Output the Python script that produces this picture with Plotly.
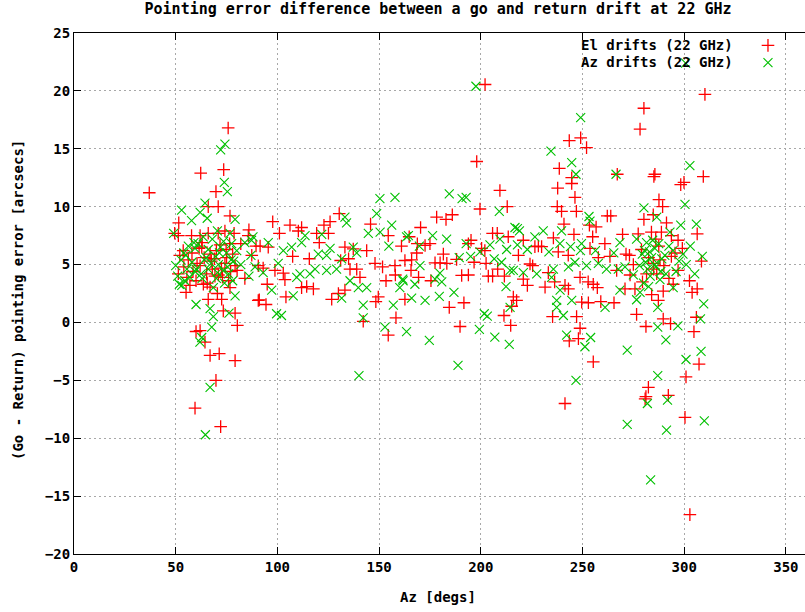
import plotly.graph_objects as go

# ---- data ----
el_az = [75.8, 62.3, 73.6, 37.0, 69.8, 66.0, 70.9, 76.7, 51.5, 49.5, 51.3, 57.8, 62.0, 66.0, 70.9, 74.2, 78.7, 85.7, 89.5, 53.7,
         62.8, 71.8, 76.5, 66.9, 87.4, 56.2, 62.0, 74.2, 79.2, 51.3, 65.2, 69.3, 80.2, 90.6,
         54.0, 58.0, 60.0, 64.0, 68.0, 70.0, 73.0, 75.0, 77.0, 57.0, 52.0, 82.0, 84.0, 86.0,
         63.6, 66.9, 55.1, 70.5, 76.7, 66.0, 72.6, 90.6, 73.4, 79.2, 80.3, 60.0, 62.0, 64.4, 66.9, 71.4, 79.2, 69.8, 59.5, 72.1,
         130.4, 97.7, 106.2, 111.9, 110.3, 122.9, 125.9, 145.8, 101.0, 119.3, 125.1, 154.5, 120.6, 91.5, 95.5, 107.5, 115.7,
         133.2, 137.3, 143.9, 131.1, 135.0, 135.7, 139.0, 148.0, 151.7, 157.8, 162.7, 161.0, 158.0, 93.0, 98.8, 102.9, 103.7,
         95.0, 111.9, 114.4, 117.7, 104.2, 126.7, 130.0, 133.2, 140.6, 91.1, 94.4, 149.6, 148.4, 153.4, 142.2, 158.3, 154.5, 162.7,
         202.1, 198.0, 209.4, 213.0, 199.6, 178.3, 182.9, 186.0, 170.4, 164.8, 168.8, 172.6, 175.0, 168.5, 181.6, 195.2, 193.9,
         205.8, 208.1, 213.5, 200.4, 202.0, 188.1, 166.0, 177.5, 180.0, 183.3, 196.7, 202.6, 165.7, 208.3, 218.5, 190.6, 193.9,
         203.7, 205.8, 211.6, 169.4, 175.5, 184.5, 191.7, 216.0, 217.6, 211.4, 214.7, 189.8,
         243.5, 249.1, 252.0, 238.6, 244.7, 244.7, 267.1, 237.8, 246.3, 237.6, 239.7, 247.0, 262.2, 263.9, 240.9, 253.4, 256.7,
         245.8, 255.0, 235.7, 269.7, 220.9, 228.3, 229.9, 226.6, 261.0, 238.1, 243.0, 253.7, 224.2, 225.5, 257.8, 263.5, 271.4,
         233.2, 248.8, 252.8, 255.3, 257.3, 266.8, 270.9, 220.9, 222.9, 231.6, 241.4, 243.1, 236.3, 249.6, 252.9, 259.0, 265.5,
         215.2, 235.3, 247.1, 248.8, 243.5, 248.0, 255.3, 241.4,
         310.2, 280.2, 278.3, 285.6, 285.1, 309.4, 298.3, 299.9, 287.6, 289.4, 284.8, 280.2, 291.3, 306.4, 277.4, 283.9, 288.8,
         293.7, 297.0, 299.1, 273.1, 275.0, 284.8, 288.1, 293.7, 308.5, 297.0, 273.4, 281.5, 286.5, 302.6, 294.6, 306.4, 303.9,
         275.8, 289.7, 287.3, 276.6, 289.7, 281.2, 293.3, 306.0, 304.8, 307.3, 300.9, 282.4, 281.2, 280.8, 292.2, 300.4, 302.8,
         67.5, 71.0, 74.8, 78.0, 55.5, 60.5, 63.0, 65.5, 69.0, 72.5, 76.0, 58.5, 61.5,
         279.0, 282.5, 285.0, 287.5, 290.0, 292.5, 295.5, 279.5, 284.0, 286.0]
el_err = [16.8, 12.9, 13.2, 11.2, 11.3, 10.0, 10.0, 9.2, 8.6, 7.7, 7.5, 7.5, 7.5, 7.7, 7.7, 7.9, 7.7, 7.5, 6.6, 6.2,
          6.5, 6.7, 6.8, 5.9, 5.8, 5.4, 4.9, 5.1, 4.9, 4.2, 4.2, 4.0, 4.5, 4.9,
          4.8, 6.0, 3.6, 5.6, 4.6, 6.2, 3.9, 5.6, 4.4, 3.2, 5.8, 6.8, 3.8, 8.0,
          3.3, 3.05, 2.6, 2.5, 3.0, 2.0, 2.0, 1.9, 1.0, 0.8, -0.26, -0.78, -0.7, -1.7, -2.85, -2.7, -3.3, -5.0, -7.4, -9.0,
          9.4, 8.7, 8.4, 8.2, 7.9, 8.4, 8.7, 8.5, 7.7, 7.7, 7.7, 7.5, 6.9, 6.6, 6.5, 5.7, 5.5,
          6.5, 6.35, 6.2, 5.35, 5.5, 4.6, 4.6, 5.1, 4.8, 4.9, 5.35, 6.6, 4.1, 4.7, 4.5, 4.26, 3.7,
          3.3, 3.0, 3.1, 2.9, 2.2, 2.0, 2.5, 2.8, 3.9, 1.95, 1.55, 2.2, 1.8, 3.6, 0.1, 0.4, -1.1, 2.0,
          20.55, 13.9, 11.4, 10.0, 9.8, 9.1, 8.9, 9.3, 8.2, 7.4, 6.8, 6.65, 6.8, 6.0, 5.9, 7.1, 6.8,
          7.7, 7.7, 7.4, 6.4, 6.2, 5.45, 5.4, 5.15, 5.15, 5.1, 5.2, 5.1, 4.5, 4.6, 5.8, 4.06, 4.1,
          4.0, 4.0, 4.0, 3.9, 3.6, 1.3, 1.7, 2.2, 1.9, 0.6, -0.26, -0.35,
          15.7, 15.95, 15.1, 13.3, 12.5, 12.0, 12.8, 11.6, 10.8, 10.0, 9.6, 9.6, 9.2, 9.2, 8.5, 8.4, 8.25,
          7.6, 7.4, 7.3, 7.6, 7.1, 6.6, 6.55, 6.55, 6.8, 6.1, 5.8, 6.4, 5.05, 4.9, 5.6, 5.7, 5.9,
          4.3, 3.9, 3.5, 3.3, 3.0, 4.5, 2.9, 3.75, 3.2, 3.05, 3.2, 2.9, 3.5, 1.75, 1.7, 1.8, 1.7,
          1.4, 0.5, 0.5, -0.5, -1.6, -1.4, -3.4, -7.0,
          19.7, 18.5, 16.7, 12.8, 12.6, 12.6, 11.9, 12.1, 10.6, 10.0, 9.3, 8.9, 8.6, 7.65, 7.65, 7.8, 7.8,
          7.5, 7.1, 6.4, 5.8, 5.0, 5.1, 5.4, 5.7, 5.3, 4.5, 4.1, 4.2, 4.2, 3.6, 3.3, 2.9, 2.6,
          2.9, 2.7, 1.9, 0.7, 0.3, -0.35, -0.1, 0.45, -0.8, -3.6, -4.7, -5.6, -6.4, -6.6, -6.3, -8.2, -16.6,
          5.3, 4.1, 6.3, 5.9, 3.9, 5.1, 6.9, 3.4, 5.5, 4.7, 3.6, 4.4, 6.4,
          6.3, 5.6, 4.6, 6.6, 4.9, 3.8, 6.0, 3.5, 2.4, 7.2]

az_az = [74.2, 72.1, 73.9, 75.4, 64.4, 52.9, 57.8, 62.0, 65.5, 79.2, 70.5, 76.7, 56.2, 59.5, 77.5, 69.6, 52.6, 64.1, 67.4,
         77.2, 87.0, 55.5, 59.5, 73.3, 51.0, 49.0, 50.0,
         54.0, 58.0, 61.0, 63.0, 66.0, 68.0, 71.0, 72.0, 75.0, 78.0, 53.0, 57.0, 60.0, 66.0, 70.0, 74.0, 76.0, 80.0, 82.0, 84.0,
         86.0, 88.0,
         51.8, 60.0, 66.9, 79.2, 68.5, 76.2, 67.7, 62.8, 61.9, 66.9, 64.6,
         150.4, 157.8, 148.8, 133.2, 134.0, 156.2, 144.7, 150.5, 113.6, 121.8, 111.9, 163.5, 154.8, 87.3, 95.5, 102.9, 107.0,
         120.1, 125.9, 124.2, 131.6, 137.3, 139.0, 89.0, 93.0, 100.4, 109.5, 111.1, 116.0, 118.5, 124.2, 129.1, 135.7, 139.8,
         143.9, 161.8, 160.2, 97.2, 107.8, 131.6, 142.2, 157.0, 99.6, 102.0, 142.2, 152.9, 163.5, 140.1, 188.8,
         197.6, 184.5, 190.8, 192.8, 209.1, 216.8, 164.4, 176.3, 183.2, 192.8, 204.5, 209.4, 212.7, 169.8, 189.4, 195.0, 199.6,
         206.6, 210.2, 170.1, 179.9, 161.6, 167.6, 177.5, 180.8, 186.8, 179.6, 166.0, 172.6, 212.4, 216.0, 201.7, 203.2, 199.3,
         174.7, 206.9, 214.0,
         249.1, 234.5, 244.7, 246.8, 266.5, 253.2, 253.7, 218.0, 219.0, 230.7, 226.6, 239.7, 238.9, 249.5, 268.4, 218.0, 222.9,
         233.5, 244.1, 249.0, 256.4, 265.4, 214.4, 220.9, 227.5, 235.7, 243.1, 246.3, 252.0, 257.8, 261.8, 267.6, 270.9, 234.8,
         268.4, 239.0, 237.3, 244.7, 237.3, 240.6, 261.1, 214.4, 242.2, 254.0, 251.2, 272.0, 246.8,
         302.8, 300.4, 280.2, 286.5, 306.0, 298.3, 308.9, 281.5, 276.6, 293.0, 285.6, 279.4, 294.5, 299.4, 305.2, 275.0, 283.3,
         288.1, 294.6, 278.3, 281.0, 282.0, 284.0, 280.0, 283.0, 286.0, 289.0, 291.0, 278.0, 296.0, 301.0, 303.0,
         276.6, 287.0, 287.0, 296.9, 309.6, 308.0, 291.0, 300.9, 308.3, 287.0, 281.9, 291.8, 272.0, 291.3, 309.9, 283.5, 300.7,
         55.0, 59.0, 62.5, 65.0, 68.5, 71.5, 73.5, 75.5, 78.5, 54.5, 63.5, 70.5,
         280.5, 282.5, 284.5, 285.5, 287.5, 288.5, 290.5, 292.5, 297.5]
az_err = [15.4, 14.9, 12.1, 11.3, 10.3, 9.7, 8.8, 9.5, 9.0, 8.9, 7.9, 7.7, 6.6, 6.4, 6.8, 5.7, 5.4, 5.4, 5.1,
          5.4, 5.8, 4.6, 4.4, 4.5, 4.0, 7.7, 4.9,
          6.0, 5.2, 6.8, 3.8, 6.3, 7.2, 5.0, 6.5, 6.0, 3.6, 3.2, 3.9, 4.6, 4.6, 3.8, 3.4, 4.2, 6.2, 5.0, 6.9,
          4.0, 7.4,
          3.3, 1.55, 1.2, 2.3, 0.5, 0.8, -0.4, -1.3, -1.7, -5.6, -9.7,
          10.7, 10.8, 9.4, 9.1, 8.6, 8.4, 7.7, 7.8, 7.5, 7.6, 6.9, 7.4, 6.6, 7.1, 6.9, 6.2, 6.5,
          5.9, 6.4, 5.8, 5.5, 6.5, 6.0, 4.8, 4.3, 5.1, 3.9, 4.2, 4.2, 4.6, 4.5, 4.6, 3.6, 3.0,
          3.0, 3.6, 3.0, 2.8, 2.3, 2.1, 1.5, 1.5, 0.75, 0.6, 0.4, -0.4, -0.8, -4.6, -3.7,
          20.4, 11.1, 10.7, 10.8, 9.6, 8.2, 7.5, 7.5, 7.2, 6.8, 6.7, 7.2, 6.3, 6.6, 5.6, 5.7, 6.1,
          5.5, 5.2, 4.9, 4.26, 3.75, 3.3, 3.75, 3.5, 2.6, 2.25, 2.1, 1.9, 3.1, 4.5, 0.75, 0.55, -0.6,
          -1.55, -1.27, -1.9,
          17.7, 14.8, 13.8, 12.8, 12.8, 9.15, 8.75, 8.1, 7.9, 7.9, 7.4, 7.9, 6.8, 6.8, 6.9, 6.7, 6.3,
          6.1, 6.55, 6.2, 6.2, 6.0, 4.5, 4.3, 4.2, 4.6, 4.8, 5.2, 4.9, 5.1, 4.6, 4.6, 4.8, 3.9,
          2.8, 2.8, 1.9, 1.9, 1.3, 0.6, 1.3, 1.3, -1.1, -1.3, -2.1, -2.4, -5.0,
          13.55, 10.2, 9.9, 9.1, 8.5, 8.4, 5.7, 6.9, 7.2, 7.8, 6.4, 5.9, 6.2, 5.9, 4.2, 4.1, 4.0,
          3.7, 3.0, 2.6, 5.2, 4.6, 5.6, 3.4, 6.1, 4.8, 5.5, 4.2, 4.9, 4.4, 5.0, 6.6,
          1.96, 1.3, -0.4, -0.3, 1.6, 0.3, -1.5, -3.2, -2.5, -4.6, -7.0, -6.7, -8.8, -9.3, -8.5, -13.6, 22.4,
          5.8, 6.9, 4.2, 5.6, 3.0, 6.0, 7.0, 4.8, 5.3, 3.6, 7.4, 4.3,
          6.2, 3.1, 7.1, 5.0, 6.8, 4.4, 5.8, 6.6, 5.3]

el_label = "El drifts (22 GHz)"
az_label = "Az drifts (22 GHz)"
title_text = "Pointing error difference between a go and return drift at 22 GHz"
x_title = "Az [degs]"
y_title = "(Go - Return) pointing error [arcsecs]"
x_ticks = [0, 50, 100, 150, 200, 250, 300, 350]
y_ticks = [-20, -15, -10, -5, 0, 5, 10, 15, 20, 25]

FONT = "DejaVu Sans Mono"
RED = "#ff0000"
GREEN = "#00c000"

fig = go.Figure()
fig.add_trace(go.Scatter(x=el_az, y=el_err, mode="markers", name=el_label, legend="legend",
                         marker=dict(symbol="cross-thin", size=9, line=dict(color=RED, width=1.3))))
fig.add_trace(go.Scatter(x=az_az, y=az_err, mode="markers", name=az_label, legend="legend2",
                         marker=dict(symbol="x-thin", size=9, line=dict(color=GREEN, width=1.1))))

axis_common = dict(showline=True, linecolor="black", linewidth=1,
                   ticks="inside", ticklen=7, tickcolor="black", tickwidth=1,
                   showgrid=True, gridcolor="#a8a8a8", gridwidth=1, griddash="2px,3px",
                   zeroline=False, tickfont=dict(family=FONT, size=14, color="black", weight="bold"))

legend_common = dict(xanchor="left", yanchor="top", bgcolor="rgba(0,0,0,0)",
                     font=dict(size=1, color="rgba(0,0,0,0)"), itemwidth=30)

fig.update_layout(
    width=805, height=612,
    margin=dict(l=74, r=0, t=33, b=58, autoexpand=False),
    paper_bgcolor="white", plot_bgcolor="white",
    xaxis=dict(range=[0, 359.4], tickvals=x_ticks, mirror="ticks", **axis_common),
    yaxis=dict(range=[-20, 25], tickvals=y_ticks, mirror=False, **axis_common),
    title=dict(text=title_text, x=0.498, xref="paper", y=0.995, yanchor="top",
               font=dict(family=FONT, size=15, color="black", weight="bold")),
    showlegend=True,
    legend=dict(x=0.922, y=1.004, **legend_common),
    legend2=dict(x=0.922, y=0.971, **legend_common),
    shapes=[dict(type="rect", xref="paper", yref="paper", x0=0.645, x1=1.0, y0=0.927, y1=0.998,
                 fillcolor="white", line=dict(width=0), layer="between")],
    annotations=[
        dict(text=el_label, xref="paper", yref="paper", x=(735 - 74) / 731, y=(554 - 45) / 521,
             xanchor="right", yanchor="middle", showarrow=False,
             font=dict(family=FONT, size=14, color="black", weight="bold")),
        dict(text=az_label, xref="paper", yref="paper", x=(735 - 74) / 731, y=(554 - 62) / 521,
             xanchor="right", yanchor="middle", showarrow=False,
             font=dict(family=FONT, size=14, color="black", weight="bold")),
        dict(text=x_title, xref="paper", yref="paper", x=0.498, y=(554 - 597) / 521,
             xanchor="center", yanchor="middle", showarrow=False,
             font=dict(family=FONT, size=14, color="black", weight="bold")),
        dict(text=y_title, xref="paper", yref="paper", x=(18 - 74) / 731, y=0.4875,
             xanchor="center", yanchor="middle", showarrow=False, textangle=-90,
             font=dict(family=FONT, size=14, color="black", weight="bold")),
    ],
)

fig.write_html("out.html")
